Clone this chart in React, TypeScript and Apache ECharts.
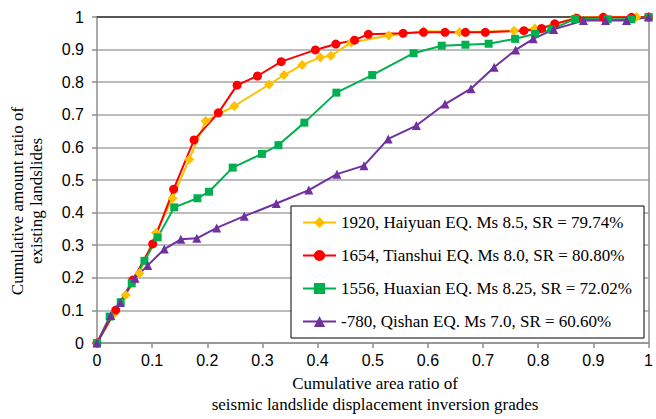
import React, { useEffect, useRef } from "react";
import * as echarts from "echarts";

const haiyuanX = [0, 0.03, 0.052, 0.077, 0.107, 0.137, 0.167, 0.197, 0.249, 0.312, 0.339, 0.372, 0.405, 0.424, 0.461, 0.529, 0.592, 0.657, 0.756, 0.794, 0.83, 0.867, 0.918, 0.978, 1];
const haiyuanY = [0, 0.088, 0.147, 0.214, 0.338, 0.444, 0.563, 0.681, 0.727, 0.793, 0.822, 0.853, 0.876, 0.881, 0.922, 0.943, 0.957, 0.953, 0.958, 0.965, 0.978, 0.998, 1.0, 1.0, 1.0];

const tianshuiX = [0, 0.034, 0.065, 0.101, 0.139, 0.176, 0.22, 0.254, 0.291, 0.334, 0.396, 0.433, 0.467, 0.492, 0.555, 0.592, 0.631, 0.668, 0.704, 0.774, 0.806, 0.83, 0.87, 0.918, 0.969, 1];
const tianshuiY = [0, 0.101, 0.193, 0.304, 0.472, 0.623, 0.706, 0.791, 0.819, 0.863, 0.899, 0.917, 0.929, 0.947, 0.95, 0.953, 0.953, 0.953, 0.953, 0.958, 0.965, 0.979, 0.996, 0.999, 0.999, 1];

const huaxianX = [0, 0.023, 0.043, 0.063, 0.086, 0.11, 0.14, 0.182, 0.203, 0.246, 0.299, 0.329, 0.376, 0.434, 0.499, 0.574, 0.625, 0.668, 0.71, 0.758, 0.794, 0.824, 0.867, 0.926, 0.969, 1];
const huaxianY = [0, 0.081, 0.125, 0.183, 0.252, 0.324, 0.416, 0.444, 0.464, 0.538, 0.58, 0.607, 0.676, 0.768, 0.822, 0.889, 0.912, 0.915, 0.918, 0.933, 0.948, 0.962, 0.994, 0.993, 0.993, 1];

const qishanX = [0, 0.025, 0.042, 0.069, 0.092, 0.122, 0.152, 0.181, 0.217, 0.267, 0.325, 0.384, 0.435, 0.484, 0.528, 0.579, 0.631, 0.678, 0.72, 0.759, 0.791, 0.828, 0.882, 0.922, 0.96, 1];
const qishanY = [0, 0.084, 0.124, 0.199, 0.238, 0.288, 0.318, 0.321, 0.353, 0.389, 0.428, 0.469, 0.518, 0.544, 0.626, 0.667, 0.733, 0.78, 0.846, 0.899, 0.933, 0.962, 0.989, 0.989, 0.989, 1];

const seriesNames = [
  "1920, Haiyuan EQ. Ms 8.5, SR = 79.74%",
  "1654, Tianshui EQ. Ms 8.0, SR = 80.80%",
  "1556, Huaxian EQ. Ms 8.25, SR = 72.02%",
  "-780, Qishan EQ. Ms 7.0, SR = 60.60%",
];

const pairs = (xs: number[], ys: number[]) => xs.map((x, i) => [x, ys[i]]);

export default function App() {
  const ref = useRef<HTMLDivElement>(null);
  useEffect(() => {
    if (!ref.current) return;
    const chart = echarts.init(ref.current, null, { renderer: "svg" });
    const serif = "Liberation Serif";
    const sans = "Liberation Sans";
    const mk = (name: string, color: string, symbol: string, size: number, xs: number[], ys: number[]) => ({
      name,
      type: "line",
      data: pairs(xs, ys),
      symbol,
      symbolSize: size,
      showAllSymbol: true,
      lineStyle: { color, width: 2 },
      itemStyle: { color, borderWidth: 0 },
    });
    chart.setOption({
      animation: false,
      textStyle: { fontFamily: sans },
      grid: { left: 97, right: 2, top: 17, bottom: 76 },
      xAxis: [
        {
          type: "value",
          min: 0,
          max: 1,
          interval: 0.1,
          axisLine: { show: true, lineStyle: { color: "#8c8c8c", width: 1.5 } },
          axisTick: { show: true, length: 5, lineStyle: { color: "#8c8c8c", width: 1.5 } },
          axisLabel: {
            margin: 9,
            color: "#000",
            fontFamily: sans,
            fontSize: 16,
            formatter: (v: number) => String(Math.round(v * 10) / 10),
          },
          splitLine: { show: false },
        },
        {
          type: "value",
          position: "top",
          min: 0,
          max: 1,
          axisLine: { show: true, onZero: false, lineStyle: { color: "#333", width: 1.5 } },
          axisTick: { show: false },
          axisLabel: { show: false },
          splitLine: { show: false },
        },
      ],
      yAxis: [
        {
          type: "value",
          min: 0,
          max: 1,
          interval: 0.1,
          axisLine: { show: true, lineStyle: { color: "#8c8c8c", width: 1.5 } },
          axisTick: { show: true, length: 5, lineStyle: { color: "#8c8c8c", width: 1.5 } },
          axisLabel: {
            margin: 13,
            color: "#000",
            fontFamily: sans,
            fontSize: 16,
            formatter: (v: number) => String(Math.round(v * 10) / 10),
          },
          splitLine: { show: true, lineStyle: { color: "#a6a6a6", width: 1.5 } },
        },
        {
          type: "value",
          position: "right",
          min: 0,
          max: 1,
          axisLine: { show: true, onZero: false, lineStyle: { color: "#8c8c8c", width: 1.5 } },
          axisTick: { show: false },
          axisLabel: { show: false },
          splitLine: { show: false },
        },
      ],
      legend: {
        orient: "vertical",
        left: 291,
        top: 206,
        padding: [8, 12, 8, 11],
        itemWidth: 33,
        itemHeight: 14,
        itemGap: 16,
        backgroundColor: "#fff",
        borderColor: "#000",
        borderWidth: 1,
        borderRadius: 0,
        textStyle: { fontFamily: serif, fontSize: 17, color: "#000" },
        data: seriesNames,
      },
      series: [
        mk(seriesNames[0], "#FFC000", "diamond", 10, haiyuanX, haiyuanY),
        mk(seriesNames[1], "#FF0000", "circle", 9, tianshuiX, tianshuiY),
        mk(seriesNames[2], "#00B050", "rect", 8, huaxianX, huaxianY),
        mk(seriesNames[3], "#7030A0", "triangle", 9, qishanX, qishanY),
      ],
      graphic: [
        {
          type: "text",
          x: 27,
          y: 201,
          rotation: Math.PI / 2,
          style: {
            text: "Cumulative amount ratio of\nexisting landslides",
            font: "17px serif",
            fill: "#000",
            align: "center",
            verticalAlign: "middle",
            lineHeight: 19,
          },
        },
        {
          type: "text",
          x: 375,
          y: 394,
          style: {
            text: "Cumulative area ratio of\nseismic landslide displacement inversion grades",
            font: "17px serif",
            fill: "#000",
            align: "center",
            verticalAlign: "middle",
            lineHeight: 21,
          },
        },
      ],
    });
    return () => chart.dispose();
  }, []);
  return <div ref={ref} style={{ width: 656, height: 419, position: "absolute", left: 0, top: 0 }} />;
}
